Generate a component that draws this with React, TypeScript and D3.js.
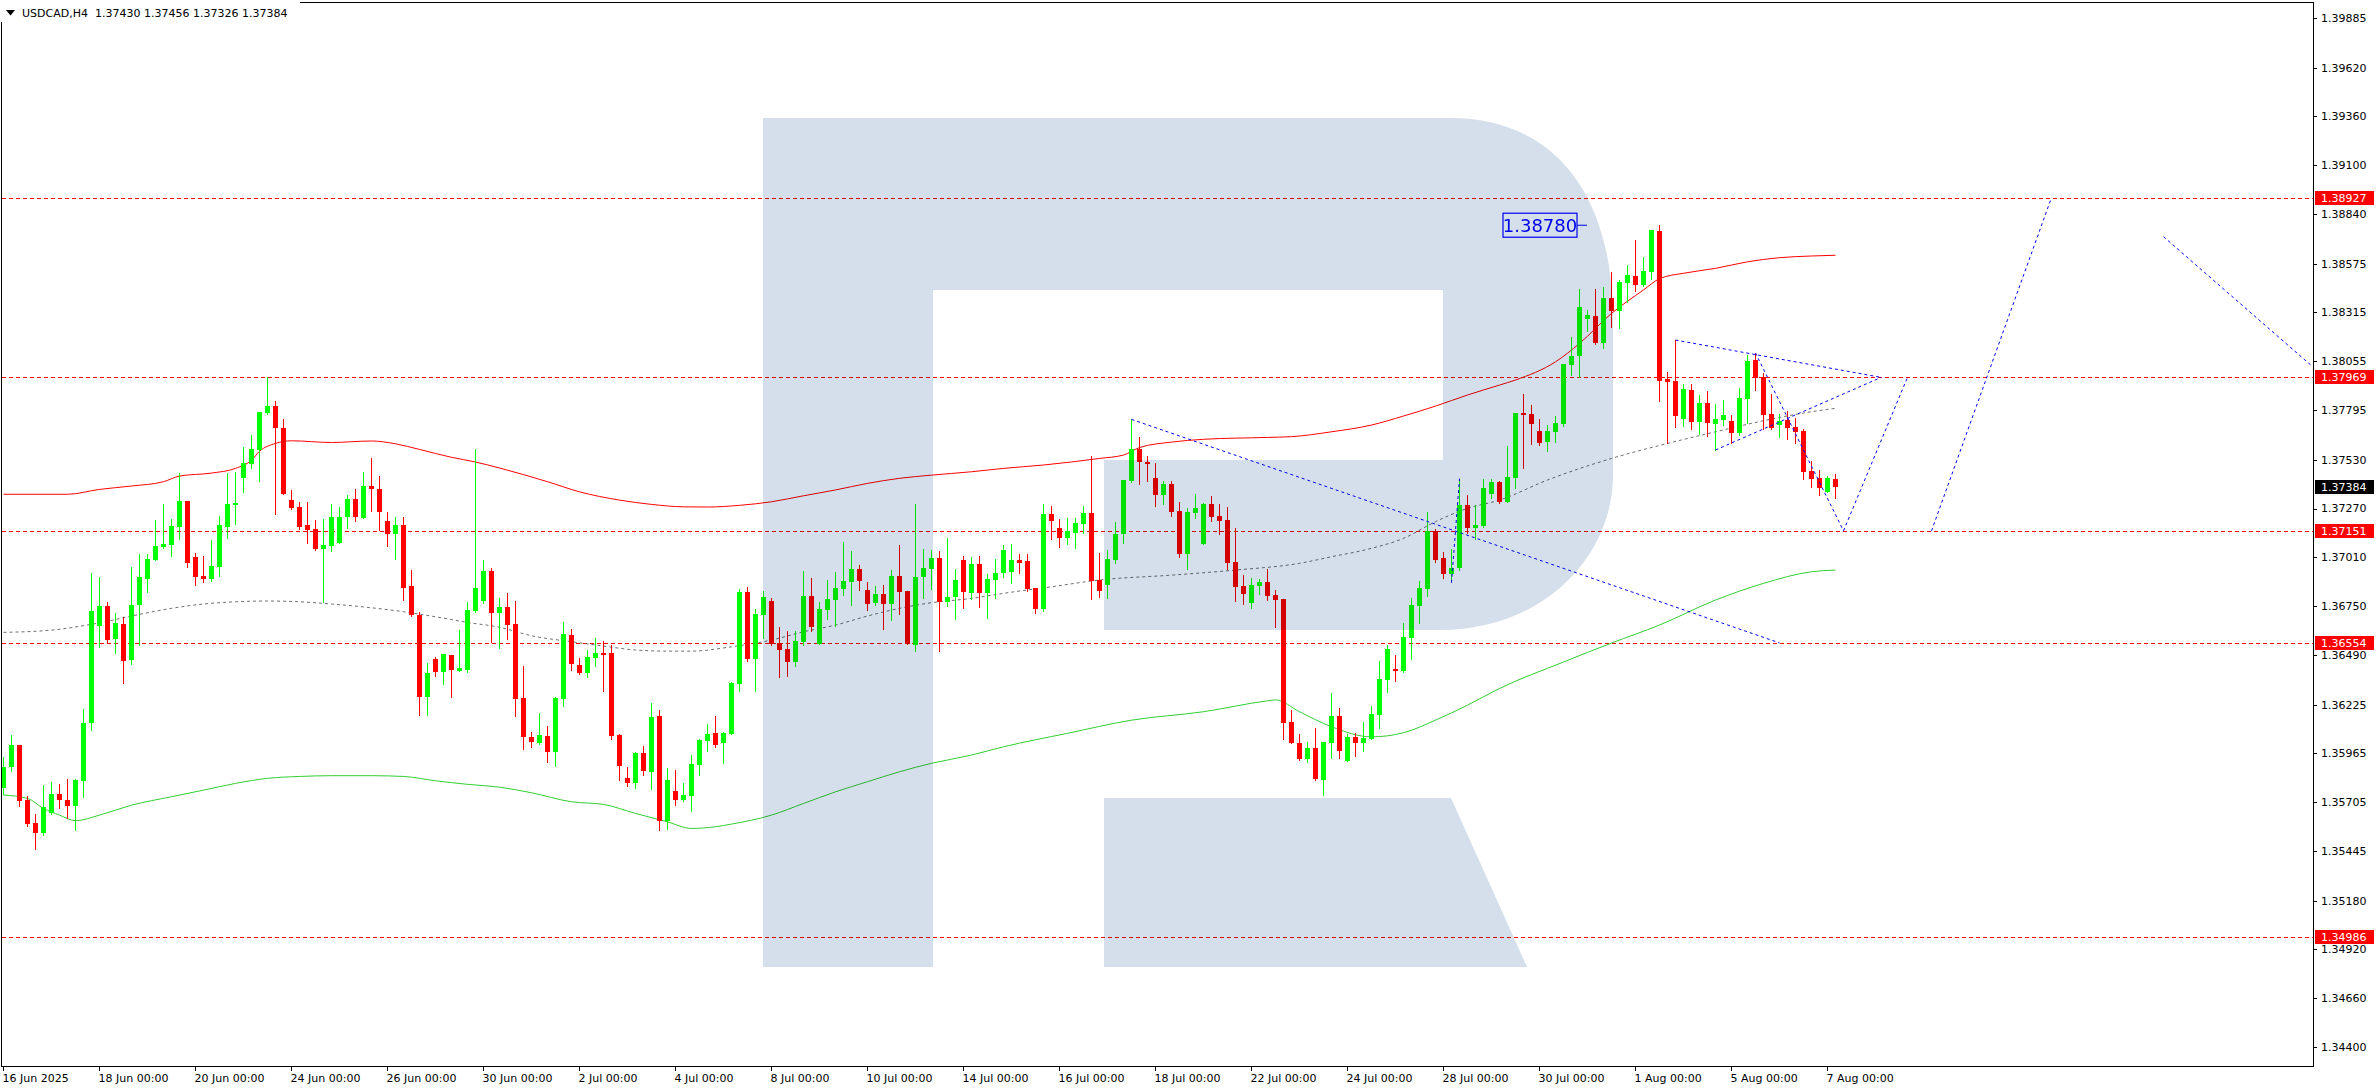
import React from 'react';
import * as d3 from 'd3';

const symbol = 'USDCAD';
const timeframe = 'H4';

const opens = [1.35778,1.35890,1.36009,1.35716,1.35595,1.35542,1.35648,1.35751,1.35719,1.35686,1.35819,1.36125,1.36645,1.36750,1.36576,1.36652,1.36462,1.36755,1.36894,1.36997,1.37066,1.37077,1.37173,1.37310,1.37011,1.36908,1.36894,1.36960,1.37173,1.37290,1.37434,1.37509,1.37582,1.37781,1.37816,1.37699,1.37315,1.37278,1.37182,1.37160,1.37054,1.37072,1.37088,1.37224,1.37320,1.37221,1.37390,1.37374,1.37203,1.37136,1.37182,1.36857,1.36702,1.36265,1.36467,1.36400,1.36489,1.36405,1.36412,1.36723,1.36778,1.36937,1.36713,1.36745,1.36654,1.36260,1.36053,1.36021,1.36057,1.35973,1.36256,1.36595,1.36435,1.36395,1.36475,1.36499,1.36499,1.36062,1.35833,1.35808,1.35966,1.35867,1.36164,1.35606,1.35764,1.35718,1.35739,1.35904,1.36032,1.36073,1.36021,1.36069,1.36336,1.36825,1.36467,1.36702,1.36777,1.36553,1.36521,1.36451,1.36558,1.36803,1.36547,1.36729,1.36782,1.36841,1.36878,1.36947,1.36835,1.36766,1.36814,1.36761,1.36910,1.36830,1.36542,1.36905,1.36947,1.37006,1.36771,1.36798,1.36995,1.36819,1.36974,1.36819,1.36889,1.36924,1.36933,1.36995,1.36990,1.36846,1.36734,1.37240,1.37166,1.37114,1.37141,1.37187,1.37246,1.36889,1.36864,1.36995,1.37134,1.37416,1.37587,1.37519,1.37432,1.37342,1.37400,1.37256,1.37029,1.37246,1.37082,1.37294,1.37230,1.37208,1.36985,1.36857,1.36768,1.36858,1.36878,1.36809,1.36787,1.36133,1.36021,1.35934,1.35993,1.35822,1.36021,1.36164,1.35926,1.36052,1.36021,1.36043,1.36171,1.36357,1.36414,1.36405,1.36581,1.36752,1.36842,1.37152,1.37006,1.36921,1.36954,1.37288,1.37168,1.37178,1.37345,1.37411,1.37304,1.37434,1.37779,1.37773,1.37683,1.37624,1.37677,1.37720,1.38035,1.38083,1.38280,1.38296,1.38152,1.38392,1.38323,1.38472,1.38509,1.38463,1.38530,1.38749,1.37960,1.37949,1.37747,1.37901,1.37733,1.37832,1.37722,1.37743,1.37736,1.37674,1.37853,1.38061,1.37971,1.37774,1.37717,1.37743,1.37704,1.37683,1.37470,1.37432,1.37359,1.37430];
const highs = [1.35947,1.36062,1.36012,1.35737,1.35641,1.35796,1.35812,1.35801,1.35828,1.35828,1.36201,1.36926,1.36905,1.36771,1.36711,1.36693,1.36958,1.37027,1.37027,1.37208,1.37294,1.37214,1.37457,1.37312,1.37033,1.37017,1.37102,1.37230,1.37459,1.37464,1.37598,1.37660,1.37786,1.37969,1.37843,1.37747,1.37368,1.37304,1.37304,1.37208,1.37214,1.37294,1.37278,1.37342,1.37374,1.37464,1.37539,1.37443,1.37251,1.37224,1.37224,1.36942,1.36720,1.36448,1.36480,1.36494,1.36489,1.36622,1.36771,1.37587,1.36995,1.36953,1.36793,1.36819,1.36777,1.36430,1.36080,1.36181,1.36110,1.36267,1.36665,1.36627,1.36471,1.36515,1.36579,1.36563,1.36542,1.36068,1.35892,1.35972,1.36004,1.36233,1.36196,1.35886,1.35876,1.35806,1.35956,1.36041,1.36121,1.36164,1.36078,1.36347,1.36842,1.36851,1.36734,1.36830,1.36793,1.36638,1.36617,1.36617,1.36937,1.36899,1.36771,1.36889,1.36931,1.37091,1.37043,1.36969,1.36878,1.36857,1.36862,1.36942,1.37075,1.36830,1.37294,1.37054,1.37049,1.37043,1.37113,1.36947,1.37017,1.37011,1.37017,1.36921,1.37001,1.37075,1.37081,1.37027,1.37027,1.36846,1.37294,1.37283,1.37214,1.37217,1.37219,1.37283,1.37550,1.37033,1.37049,1.37198,1.37422,1.37745,1.37651,1.37550,1.37512,1.37416,1.37416,1.37304,1.37272,1.37347,1.37299,1.37336,1.37294,1.37278,1.37166,1.36915,1.36899,1.36894,1.36949,1.36835,1.36790,1.36196,1.36068,1.36025,1.36100,1.36025,1.36286,1.36206,1.36068,1.36073,1.36132,1.36217,1.36457,1.36542,1.36489,1.36659,1.36793,1.36883,1.37253,1.37162,1.37038,1.37054,1.37429,1.37342,1.37288,1.37427,1.37427,1.37416,1.37603,1.37779,1.37880,1.37821,1.37747,1.37715,1.37763,1.38040,1.38184,1.38440,1.38328,1.38440,1.38450,1.38530,1.38488,1.38568,1.38701,1.38610,1.38754,1.38780,1.37997,1.38168,1.37933,1.37933,1.37875,1.37896,1.37827,1.37848,1.37768,1.37912,1.38088,1.38099,1.37992,1.37880,1.37774,1.37789,1.37752,1.37695,1.37525,1.37475,1.37445,1.37456];
const lows = [1.35751,1.35872,1.35686,1.35577,1.35453,1.35529,1.35641,1.35675,1.35618,1.35556,1.35734,1.36089,1.36533,1.36560,1.36501,1.36338,1.36444,1.36542,1.36826,1.36997,1.37061,1.37018,1.37109,1.36960,1.36864,1.36880,1.36885,1.36910,1.37114,1.37187,1.37358,1.37486,1.37416,1.37774,1.37240,1.37345,1.37267,1.37161,1.37088,1.37049,1.36773,1.37045,1.37084,1.37168,1.37205,1.37221,1.37256,1.37155,1.37072,1.37001,1.36784,1.36698,1.36171,1.36171,1.36379,1.36336,1.36267,1.36405,1.36398,1.36718,1.36768,1.36560,1.36528,1.36576,1.36165,1.35989,1.36000,1.36014,1.35918,1.35899,1.36217,1.36411,1.36388,1.36373,1.36432,1.36299,1.36043,1.35824,1.35792,1.35782,1.35851,1.35776,1.35558,1.35563,1.35691,1.35712,1.35659,1.35851,1.35979,1.36000,1.35915,1.36069,1.36299,1.36457,1.36297,1.36579,1.36542,1.36372,1.36379,1.36430,1.36542,1.36617,1.36547,1.36681,1.36643,1.36809,1.36756,1.36835,1.36729,1.36755,1.36627,1.36675,1.36707,1.36547,1.36510,1.36793,1.36841,1.36510,1.36750,1.36681,1.36739,1.36787,1.36745,1.36686,1.36793,1.36903,1.36871,1.36928,1.36830,1.36711,1.36723,1.37109,1.37066,1.37082,1.37057,1.37141,1.36789,1.36800,1.36794,1.36981,1.37088,1.37411,1.37400,1.37416,1.37283,1.37294,1.37232,1.37013,1.36949,1.37219,1.37082,1.37205,1.37136,1.36949,1.36778,1.36762,1.36741,1.36816,1.36784,1.36640,1.36043,1.36020,1.35929,1.35918,1.35822,1.35742,1.35942,1.35942,1.35926,1.35952,1.35979,1.36043,1.36101,1.36293,1.36352,1.36400,1.36469,1.36661,1.36805,1.36986,1.36899,1.36889,1.36942,1.37141,1.37107,1.37173,1.37324,1.37301,1.37304,1.37379,1.37486,1.37614,1.37608,1.37576,1.37624,1.37711,1.37981,1.37971,1.38216,1.38147,1.38127,1.38239,1.38234,1.38371,1.38431,1.38456,1.38493,1.37843,1.37621,1.37706,1.37710,1.37694,1.37667,1.37656,1.37582,1.37715,1.37621,1.37663,1.37727,1.37901,1.37695,1.37695,1.37653,1.37642,1.37621,1.37429,1.37383,1.37343,1.37356,1.37326];
const closes = [1.35893,1.36009,1.35712,1.35591,1.35543,1.35677,1.35751,1.35719,1.35686,1.35822,1.36125,1.36723,1.36750,1.36569,1.36658,1.36459,1.36754,1.36903,1.37001,1.37070,1.37081,1.37176,1.37310,1.36981,1.36906,1.36896,1.36963,1.37182,1.37294,1.37299,1.37511,1.37585,1.37784,1.37816,1.37701,1.37347,1.37274,1.37173,1.37155,1.37054,1.37075,1.37224,1.37224,1.37320,1.37224,1.37390,1.37376,1.37251,1.37136,1.37182,1.36848,1.36702,1.36265,1.36393,1.36400,1.36494,1.36411,1.36419,1.36729,1.36846,1.36937,1.36713,1.36745,1.36649,1.36256,1.36053,1.36027,1.36062,1.35973,1.36261,1.36601,1.36443,1.36395,1.36478,1.36499,1.36491,1.36059,1.35899,1.35808,1.35966,1.35872,1.36158,1.35606,1.35822,1.35718,1.35742,1.35908,1.36036,1.36068,1.36011,1.36073,1.36340,1.36825,1.36467,1.36707,1.36798,1.36547,1.36515,1.36451,1.36563,1.36803,1.36638,1.36734,1.36787,1.36846,1.36883,1.36947,1.36883,1.36761,1.36814,1.36761,1.36910,1.36825,1.36547,1.36905,1.36953,1.37006,1.36771,1.36798,1.36889,1.36825,1.36974,1.36819,1.36894,1.36926,1.37049,1.36995,1.36981,1.36841,1.36734,1.37240,1.37205,1.37114,1.37152,1.37191,1.37246,1.36883,1.36832,1.37001,1.37134,1.37422,1.37587,1.37519,1.37509,1.37342,1.37400,1.37253,1.37029,1.37251,1.37272,1.37294,1.37225,1.37205,1.36981,1.36853,1.36816,1.36862,1.36878,1.36805,1.36784,1.36128,1.36021,1.35934,1.35993,1.35828,1.36025,1.36164,1.35979,1.36052,1.36021,1.36046,1.36174,1.36361,1.36521,1.36405,1.36585,1.36755,1.36846,1.37152,1.36995,1.36921,1.36954,1.37288,1.37168,1.37182,1.37379,1.37411,1.37304,1.37438,1.37779,1.37768,1.37720,1.37619,1.37683,1.37725,1.38040,1.38083,1.38344,1.38301,1.38152,1.38392,1.38323,1.38477,1.38514,1.38463,1.38536,1.38754,1.37949,1.37946,1.37763,1.37907,1.37733,1.37832,1.37727,1.37747,1.37768,1.37674,1.37859,1.38056,1.37967,1.37770,1.37701,1.37736,1.37701,1.37679,1.37466,1.37429,1.37381,1.37432,1.37384];

// [bar index, price]
const upperBand = [[0,1.37346],[8,1.37346],[12,1.37372],[16,1.37390],[20,1.37413],[22,1.37443],[26,1.37459],[29,1.37484],[31,1.37528],[32,1.37575],[34,1.37617],[36,1.37631],[41,1.37622],[46,1.37630],[49,1.37615],[52,1.37585],[56,1.37543],[59,1.37518],[62,1.37486],[68,1.37413],[72,1.37359],[77,1.37315],[81,1.37292],[85,1.37279],[88,1.37278],[92,1.37287],[96,1.37306],[100,1.37338],[104,1.37369],[108,1.37404],[112,1.37431],[116,1.37448],[121,1.37466],[125,1.37484],[130,1.37502],[137,1.37537],[140,1.37555],[142,1.37595],[146,1.37624],[150,1.37639],[158,1.37649],[161,1.37653],[166,1.37679],[171,1.37715],[175,1.37763],[179,1.37816],[183,1.37875],[187,1.37928],[189,1.37955],[194,1.38052],[197,1.38150],[201,1.38310],[205,1.38435],[207,1.38495],[210,1.38524],[214,1.38550],[218,1.38585],[222,1.38607],[226,1.38616],[229,1.38620]];
const midBand = [[0,1.36610],[6,1.36622],[12,1.36661],[16,1.36697],[21,1.36738],[25,1.36761],[29,1.36773],[33,1.36777],[37,1.36773],[41,1.36761],[46,1.36741],[50,1.36720],[54,1.36693],[58,1.36663],[62,1.36637],[66,1.36592],[71,1.36560],[75,1.36537],[79,1.36516],[83,1.36510],[86,1.36510],[91,1.36533],[96,1.36569],[100,1.36613],[104,1.36649],[108,1.36697],[112,1.36738],[116,1.36768],[121,1.36791],[125,1.36818],[131,1.36853],[137,1.36889],[146,1.36915],[154,1.36942],[162,1.36978],[166,1.37013],[171,1.37058],[175,1.37111],[179,1.37200],[183,1.37271],[187,1.37315],[193,1.37422],[201,1.37537],[208,1.37617],[214,1.37679],[220,1.37738],[226,1.37786],[229,1.37804]];
const lowerBand = [[0,1.35743],[3,1.35725],[5,1.35672],[7,1.35636],[9,1.35606],[12,1.35636],[16,1.35689],[21,1.35734],[25,1.35769],[29,1.35805],[33,1.35832],[37,1.35842],[41,1.35846],[46,1.35846],[50,1.35842],[54,1.35819],[58,1.35800],[62,1.35785],[66,1.35755],[71,1.35707],[75,1.35693],[79,1.35645],[83,1.35600],[86,1.35565],[89,1.35574],[91,1.35588],[96,1.35636],[100,1.35698],[104,1.35760],[108,1.35814],[112,1.35867],[116,1.35912],[121,1.35956],[125,1.36000],[133,1.36072],[141,1.36142],[150,1.36187],[158,1.36245],[159,1.36250],[162,1.36187],[166,1.36107],[171,1.36053],[175,1.36075],[179,1.36142],[183,1.36222],[187,1.36311],[195,1.36452],[201,1.36553],[207,1.36649],[214,1.36782],[220,1.36871],[226,1.36933],[229,1.36942]];

const levels = [1.38927, 1.37969, 1.37151, 1.36554, 1.34986];
const priceTicks = [1.39885,1.39620,1.39360,1.39100,1.38840,1.38575,1.38315,1.38055,1.37795,1.37530,1.37270,1.37010,1.36750,1.36490,1.36225,1.35965,1.35705,1.35445,1.35180,1.34920,1.34660,1.34400];
const timeTickBars = [0,12,24,36,48,60,72,84,96,108,120,132,144,156,168,180,192,204,216,228];
const timeTickLabels = ['16 Jun 2025','18 Jun 00:00','20 Jun 00:00','24 Jun 00:00','26 Jun 00:00','30 Jun 00:00','2 Jul 00:00','4 Jul 00:00','8 Jul 00:00','10 Jul 00:00','14 Jul 00:00','16 Jul 00:00','18 Jul 00:00','22 Jul 00:00','24 Jul 00:00','28 Jul 00:00','30 Jul 00:00','1 Aug 00:00','5 Aug 00:00','7 Aug 00:00'];

// projection segments: [bar1, price1, bar2, price2]
const projections = [
  [141, 1.37745, 222, 1.36554],
  [181, 1.36874, 182, 1.37429],
  [209, 1.38168, 234.7, 1.37969],
  [214, 1.37582, 234.7, 1.37969],
  [219, 1.38099, 230, 1.37151],
  [230, 1.37151, 238, 1.37969],
  [241, 1.37151, 256, 1.38927],
  [270, 1.38719, 288.4, 1.38035],
];
const markPrice = 1.38780;
const markBar = 198;

const FONT = '"DejaVu Sans", Tahoma, sans-serif';

export default function App() {
  const W = 2376, H = 1090;
  const plotL = 2, plotT = 3, plotR = 2313, plotB = 1066;
  const y = d3.scaleLinear().domain([1.344, 1.39885]).range([1047, 17.9]);
  const x = d3.scaleLinear().domain([0, 1]).range([3, 11]);
  const xc = (i: number) => Math.round(x(i)) + 0.5;
  const ry = (p: number) => Math.round(y(p));

  const bandLine = d3.line<number[]>()
    .x(d => x(d[0]) + 0.5)
    .y(d => y(d[1]))
    .curve(d3.curveMonotoneX);

  const n = closes.length;
  const last = n - 1;
  const fmt = (v: number) => v.toFixed(5);
  const header = `${symbol},${timeframe}  ${fmt(opens[last])} ${fmt(highs[last])} ${fmt(lows[last])} ${fmt(closes[last])}`;

  const candles = d3.range(n).map(i => {
    const up = closes[i] > opens[i];
    const color = up ? '#00ff00' : '#ff0000';
    const cx = xc(i);
    const yo = ry(opens[i]);
    const yc = ry(closes[i]);
    const top = Math.min(yo, yc);
    const h = Math.max(1, Math.abs(yo - yc));
    return (
      <g key={i}>
        <line x1={cx} x2={cx} y1={ry(highs[i])} y2={ry(lows[i]) + 1} stroke={color} strokeWidth={1} />
        <rect x={cx - 2.5} y={top} width={5} height={h} fill={color} />
      </g>
    );
  });

  const markY = y(markPrice);
  const markX = x(markBar);

  return (
    <svg width={W} height={H} style={{ position: 'absolute', left: 0, top: 0, background: '#ffffff' }}
      xmlns="http://www.w3.org/2000/svg">
      <defs>
        <clipPath id="plot">
          <rect x={plotL} y={plotT} width={plotR - plotL} height={plotB - plotT} />
        </clipPath>
      </defs>
      <rect x={0} y={0} width={W} height={H} fill="#ffffff" />
      <g clipPath="url(#plot)">
        {levels.map((p, k) => (
          <line key={k} x1={plotL} x2={plotR} y1={ry(p) + 0.5} y2={ry(p) + 0.5}
            stroke="#ff0000" strokeWidth={1} strokeDasharray="4,3" />
        ))}
        <path d={bandLine(upperBand as any) || ''} fill="none" stroke="#ff0000" strokeWidth={1} />
        <path d={bandLine(lowerBand as any) || ''} fill="none" stroke="#32cd32" strokeWidth={1} />
        <path d={bandLine(midBand as any) || ''} fill="none" stroke="#6e6e6e" strokeWidth={1} strokeDasharray="3,3" />
        <g shapeRendering="crispEdges">{candles}</g>
        {projections.map((s, k) => (
          <line key={k} x1={x(s[0]) + 0.5} y1={y(s[1])} x2={x(s[2]) + 0.5} y2={y(s[3])}
            stroke="#0000ff" strokeWidth={1} strokeDasharray="3,3" />
        ))}
        <g>
          <rect x={markX - 84} y={markY - 12} width={74} height={24} fill="none" stroke="#0000ff" strokeWidth={1.2} />
          <text x={markX - 47} y={markY} dy="0.36em" textAnchor="middle" fontFamily={FONT} fontSize={18} fill="#0000ff">{markPrice.toFixed(5)}</text>
          <line x1={markX - 10} x2={markX} y1={markY} y2={markY} stroke="#0000ff" strokeWidth={1} />
        </g>
        {/* watermark logo, multiplied over the chart */}
        <g style={{ mixBlendMode: 'multiply' }} fill="#d4dfeb">
          <path d="M 763 118 H 1450 C 1555 118 1613 195 1613 320 V 475 C 1613 555 1545 630 1440 630 H 1104 V 460 H 1443 V 290 H 933 V 967 H 763 Z" />
          <path d="M 1104 798 H 1451 L 1527 967 H 1104 Z" />
        </g>
      </g>
      {/* frame */}
      <rect x={plotL - 0.5} y={plotT - 0.5} width={plotR - plotL + 1} height={plotB - plotT + 1} fill="none" stroke="#000000" strokeWidth={1} shapeRendering="crispEdges" />
      {/* header */}
      <rect x={0} y={0} width={300} height={22} fill="#ffffff" />
      <polygon points="6,10 15,10 10.5,15.5" fill="#000000" />
      <text x={22} y={17} fontFamily={FONT} fontSize={11} fill="#000000" style={{ whiteSpace: 'pre' }}>{header}</text>
      {/* price axis */}
      <g fontFamily={FONT} fontSize={11}>
        {priceTicks.map((p, k) => (
          <g key={k}>
            <line x1={plotR} x2={plotR + 4} y1={ry(p) + 0.5} y2={ry(p) + 0.5} stroke="#000000" shapeRendering="crispEdges" />
            <text x={plotR + 8} y={y(p)} dy="0.36em" fill="#000000">{p.toFixed(5)}</text>
          </g>
        ))}
        {levels.map((p, k) => (
          <g key={k}>
            <rect x={plotR + 2} y={ry(p) - 7} width={59} height={14} fill="#ff0000" />
            <text x={plotR + 8} y={y(p)} dy="0.36em" fill="#ffffff">{p.toFixed(5)}</text>
          </g>
        ))}
        <rect x={plotR + 2} y={ry(closes[last]) - 7} width={59} height={14} fill="#000000" />
        <text x={plotR + 8} y={y(closes[last])} dy="0.36em" fill="#ffffff">{closes[last].toFixed(5)}</text>
      </g>
      {/* time axis */}
      <g fontFamily={FONT} fontSize={11}>
        {timeTickBars.map((b, k) => (
          <g key={k}>
            <line x1={xc(b)} x2={xc(b)} y1={plotB} y2={plotB + 5} stroke="#000000" shapeRendering="crispEdges" />
            <text x={xc(b) - 1} y={plotB + 16} fill="#000000">{timeTickLabels[k]}</text>
          </g>
        ))}
      </g>
    </svg>
  );
}
